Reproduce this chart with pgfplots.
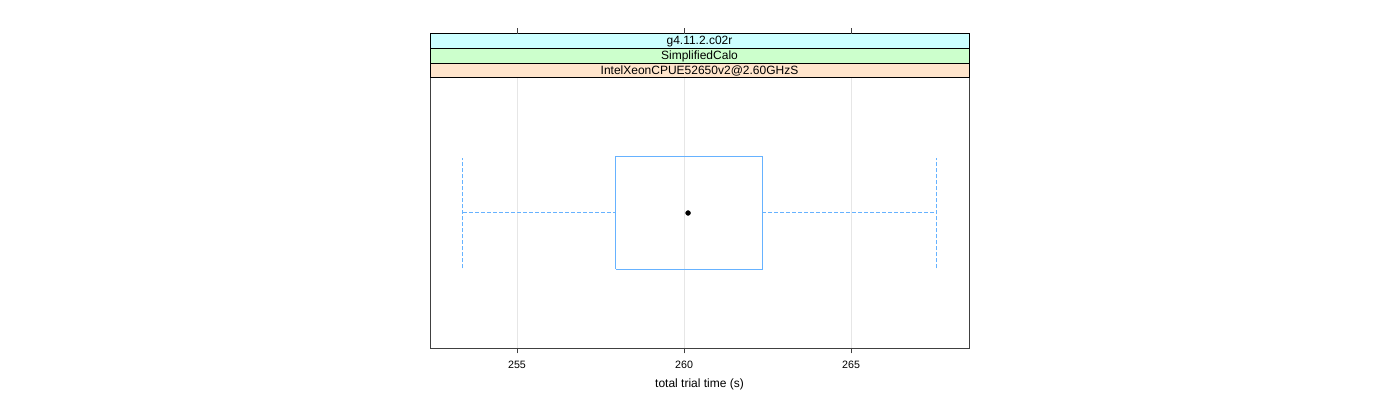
\documentclass[border=0pt]{standalone}
\usepackage{pgfplots}
\pgfplotsset{compat=1.18}
\usepackage{fontspec}
\setmainfont{Liberation Sans}
\definecolor{boxcol}{RGB}{102,178,255}
\definecolor{gridcol}{RGB}{230,230,230}
\definecolor{stripA}{HTML}{CCFFFF}
\definecolor{stripB}{HTML}{CCFFCC}
\definecolor{stripC}{HTML}{FFE5CC}
\begin{document}
\begin{tikzpicture}
\path[use as bounding box] (0,0) rectangle (1050pt,300pt);
\begin{axis}[
  at={(322.5pt,39pt)}, anchor=south west,
  scale only axis, width=404.25pt, height=202.5pt,
  xmin=252.395, xmax=268.53, ymin=0, ymax=2,
  xtick={255,260,265}, ytick=\empty,
  xtick pos=bottom, tick align=outside, major tick length=4pt,
  xmajorgrids, grid style={gridcol, line width=0.75pt},
  axis line style={black!75, line width=0.75pt},
  tick style={black!75, line width=0.75pt},
  ticklabel style={font=\fontsize{8}{9}\selectfont},
  /pgf/number format/assume math mode=true,
  xticklabel style={anchor=center, yshift=-8.5pt},
  xlabel={total trial time (s)},
  xlabel style={font=\fontsize{9}{10}\selectfont, anchor=center, at={(axis description cs:0.5,-0.133)}},
  clip=false,
]
% whiskers
\addplot[boxcol, line width=0.75pt, dash pattern=on 3pt off 1.5pt] coordinates {(253.38,1) (257.96,1)};
\addplot[boxcol, line width=0.75pt, dash pattern=on 3pt off 1.5pt] coordinates {(262.34,1) (267.55,1)};
\addplot[boxcol, line width=0.75pt, dash pattern=on 3pt off 1.5pt] coordinates {(253.38,0.59) (253.38,1.41)};
\addplot[boxcol, line width=0.75pt, dash pattern=on 3pt off 1.5pt] coordinates {(267.55,0.59) (267.55,1.41)};
% box
\addplot[boxcol, line width=0.75pt] coordinates {(257.96,0.585) (262.34,0.585) (262.34,1.415) (257.96,1.415) (257.96,0.585)};
% median dot
\addplot[only marks, mark=*, mark size=1.8pt, black] coordinates {(260.12,1)};
% strips
\fill[stripC] (rel axis cs:0,1) rectangle ([yshift=11pt]rel axis cs:1,1);
\fill[stripB] ([yshift=11pt]rel axis cs:0,1) rectangle ([yshift=22pt]rel axis cs:1,1);
\fill[stripA] ([yshift=22pt]rel axis cs:0,1) rectangle ([yshift=33pt]rel axis cs:1,1);
\draw[black, line width=0.75pt] (rel axis cs:0,1) rectangle ([yshift=33pt]rel axis cs:1,1);
\draw[black, line width=0.75pt] ([yshift=11pt]rel axis cs:0,1) -- ([yshift=11pt]rel axis cs:1,1);
\draw[black, line width=0.75pt] ([yshift=22pt]rel axis cs:0,1) -- ([yshift=22pt]rel axis cs:1,1);
\node[font=\fontsize{9}{10}\selectfont, inner sep=0pt] at ([yshift=5.5pt]axis description cs:0.5,1) {IntelXeonCPUE52650v2@2.60GHzS};
\node[font=\fontsize{9}{10}\selectfont, inner sep=0pt] at ([yshift=16.5pt]axis description cs:0.5,1) {SimplifiedCalo};
\node[font=\fontsize{9}{10}\selectfont, inner sep=0pt] at ([yshift=27.5pt]axis description cs:0.5,1) {g4.11.2.c02r};
% top ticks
\draw[black!75, line width=0.75pt] ([yshift=33pt]axis cs:255,2) -- ([yshift=37.5pt]axis cs:255,2);
\draw[black!75, line width=0.75pt] ([yshift=33pt]axis cs:260,2) -- ([yshift=37.5pt]axis cs:260,2);
\draw[black!75, line width=0.75pt] ([yshift=33pt]axis cs:265,2) -- ([yshift=37.5pt]axis cs:265,2);
\end{axis}
\end{tikzpicture}
\end{document}
